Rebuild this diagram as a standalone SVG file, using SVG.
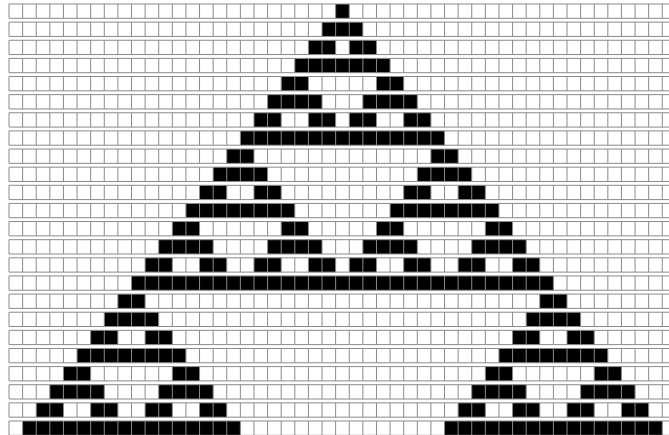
<svg xmlns="http://www.w3.org/2000/svg" width="669" height="435" viewBox="0 0 669 435">
<style>
.b{fill:#000}
.v{stroke:#8a8a8a;stroke-width:1;stroke-dasharray:14.3 3.83;fill:none}
.h{stroke:#8a8a8a;stroke-width:1;fill:none}
</style>
<rect x="0" y="0" width="669" height="435" fill="#fff"/>
<g id="cells" transform="translate(9 4) scale(13.61 18.13)">
<g id="row-0"><rect class="b" x="24" y="0" width="1" height="0.7888"/></g>
<g id="row-1"><rect class="b" x="23" y="1" width="3" height="0.7888"/></g>
<g id="row-2"><rect class="b" x="22" y="2" width="2" height="0.7888"/><rect class="b" x="25" y="2" width="2" height="0.7888"/></g>
<g id="row-3"><rect class="b" x="21" y="3" width="7" height="0.7888"/></g>
<g id="row-4"><rect class="b" x="20" y="4" width="2" height="0.7888"/><rect class="b" x="27" y="4" width="2" height="0.7888"/></g>
<g id="row-5"><rect class="b" x="19" y="5" width="4" height="0.7888"/><rect class="b" x="26" y="5" width="4" height="0.7888"/></g>
<g id="row-6"><rect class="b" x="18" y="6" width="2" height="0.7888"/><rect class="b" x="22" y="6" width="2" height="0.7888"/><rect class="b" x="25" y="6" width="2" height="0.7888"/><rect class="b" x="29" y="6" width="2" height="0.7888"/></g>
<g id="row-7"><rect class="b" x="17" y="7" width="15" height="0.7888"/></g>
<g id="row-8"><rect class="b" x="16" y="8" width="2" height="0.7888"/><rect class="b" x="31" y="8" width="2" height="0.7888"/></g>
<g id="row-9"><rect class="b" x="15" y="9" width="4" height="0.7888"/><rect class="b" x="30" y="9" width="4" height="0.7888"/></g>
<g id="row-10"><rect class="b" x="14" y="10" width="2" height="0.7888"/><rect class="b" x="18" y="10" width="2" height="0.7888"/><rect class="b" x="29" y="10" width="2" height="0.7888"/><rect class="b" x="33" y="10" width="2" height="0.7888"/></g>
<g id="row-11"><rect class="b" x="13" y="11" width="8" height="0.7888"/><rect class="b" x="28" y="11" width="8" height="0.7888"/></g>
<g id="row-12"><rect class="b" x="12" y="12" width="2" height="0.7888"/><rect class="b" x="20" y="12" width="2" height="0.7888"/><rect class="b" x="27" y="12" width="2" height="0.7888"/><rect class="b" x="35" y="12" width="2" height="0.7888"/></g>
<g id="row-13"><rect class="b" x="11" y="13" width="4" height="0.7888"/><rect class="b" x="19" y="13" width="4" height="0.7888"/><rect class="b" x="26" y="13" width="4" height="0.7888"/><rect class="b" x="34" y="13" width="4" height="0.7888"/></g>
<g id="row-14"><rect class="b" x="10" y="14" width="2" height="0.7888"/><rect class="b" x="14" y="14" width="2" height="0.7888"/><rect class="b" x="18" y="14" width="2" height="0.7888"/><rect class="b" x="22" y="14" width="2" height="0.7888"/><rect class="b" x="25" y="14" width="2" height="0.7888"/><rect class="b" x="29" y="14" width="2" height="0.7888"/><rect class="b" x="33" y="14" width="2" height="0.7888"/><rect class="b" x="37" y="14" width="2" height="0.7888"/></g>
<g id="row-15"><rect class="b" x="9" y="15" width="31" height="0.7888"/></g>
<g id="row-16"><rect class="b" x="8" y="16" width="2" height="0.7888"/><rect class="b" x="39" y="16" width="2" height="0.7888"/></g>
<g id="row-17"><rect class="b" x="7" y="17" width="4" height="0.7888"/><rect class="b" x="38" y="17" width="4" height="0.7888"/></g>
<g id="row-18"><rect class="b" x="6" y="18" width="2" height="0.7888"/><rect class="b" x="10" y="18" width="2" height="0.7888"/><rect class="b" x="37" y="18" width="2" height="0.7888"/><rect class="b" x="41" y="18" width="2" height="0.7888"/></g>
<g id="row-19"><rect class="b" x="5" y="19" width="8" height="0.7888"/><rect class="b" x="36" y="19" width="8" height="0.7888"/></g>
<g id="row-20"><rect class="b" x="4" y="20" width="2" height="0.7888"/><rect class="b" x="12" y="20" width="2" height="0.7888"/><rect class="b" x="35" y="20" width="2" height="0.7888"/><rect class="b" x="43" y="20" width="2" height="0.7888"/></g>
<g id="row-21"><rect class="b" x="3" y="21" width="4" height="0.7888"/><rect class="b" x="11" y="21" width="4" height="0.7888"/><rect class="b" x="34" y="21" width="4" height="0.7888"/><rect class="b" x="42" y="21" width="4" height="0.7888"/></g>
<g id="row-22"><rect class="b" x="2" y="22" width="2" height="0.7888"/><rect class="b" x="6" y="22" width="2" height="0.7888"/><rect class="b" x="10" y="22" width="2" height="0.7888"/><rect class="b" x="14" y="22" width="2" height="0.7888"/><rect class="b" x="33" y="22" width="2" height="0.7888"/><rect class="b" x="37" y="22" width="2" height="0.7888"/><rect class="b" x="41" y="22" width="2" height="0.7888"/><rect class="b" x="45" y="22" width="2" height="0.7888"/></g>
<g id="row-23"><rect class="b" x="1" y="23" width="16" height="0.7888"/><rect class="b" x="32" y="23" width="16" height="0.7888"/></g>
</g>
<g id="grid">
<path class="h" d="M9 4H669M9 18.3H669M9 22.13H669M9 36.43H669M9 40.26H669M9 54.56H669M9 58.39H669M9 72.69H669M9 76.52H669M9 90.82H669M9 94.65H669M9 108.95H669M9 112.78H669M9 127.08H669M9 130.91H669M9 145.21H669M9 149.04H669M9 163.34H669M9 167.17H669M9 181.47H669M9 185.3H669M9 199.6H669M9 203.43H669M9 217.73H669M9 221.56H669M9 235.86H669M9 239.69H669M9 253.99H669M9 257.82H669M9 272.12H669M9 275.95H669M9 290.25H669M9 294.08H669M9 308.38H669M9 312.21H669M9 326.51H669M9 330.34H669M9 344.64H669M9 348.47H669M9 362.77H669M9 366.6H669M9 380.9H669M9 384.73H669M9 399.03H669M9 402.86H669M9 417.16H669M9 420.99H669M9 435.29H669"/>
<line class="v" x1="9" y1="4" x2="9" y2="436"/>
<line class="v" x1="22.61" y1="4" x2="22.61" y2="436"/>
<line class="v" x1="36.22" y1="4" x2="36.22" y2="436"/>
<line class="v" x1="49.83" y1="4" x2="49.83" y2="436"/>
<line class="v" x1="63.44" y1="4" x2="63.44" y2="436"/>
<line class="v" x1="77.05" y1="4" x2="77.05" y2="436"/>
<line class="v" x1="90.66" y1="4" x2="90.66" y2="436"/>
<line class="v" x1="104.27" y1="4" x2="104.27" y2="436"/>
<line class="v" x1="117.88" y1="4" x2="117.88" y2="436"/>
<line class="v" x1="131.49" y1="4" x2="131.49" y2="436"/>
<line class="v" x1="145.1" y1="4" x2="145.1" y2="436"/>
<line class="v" x1="158.71" y1="4" x2="158.71" y2="436"/>
<line class="v" x1="172.32" y1="4" x2="172.32" y2="436"/>
<line class="v" x1="185.93" y1="4" x2="185.93" y2="436"/>
<line class="v" x1="199.54" y1="4" x2="199.54" y2="436"/>
<line class="v" x1="213.15" y1="4" x2="213.15" y2="436"/>
<line class="v" x1="226.76" y1="4" x2="226.76" y2="436"/>
<line class="v" x1="240.37" y1="4" x2="240.37" y2="436"/>
<line class="v" x1="253.98" y1="4" x2="253.98" y2="436"/>
<line class="v" x1="267.59" y1="4" x2="267.59" y2="436"/>
<line class="v" x1="281.2" y1="4" x2="281.2" y2="436"/>
<line class="v" x1="294.81" y1="4" x2="294.81" y2="436"/>
<line class="v" x1="308.42" y1="4" x2="308.42" y2="436"/>
<line class="v" x1="322.03" y1="4" x2="322.03" y2="436"/>
<line class="v" x1="335.64" y1="4" x2="335.64" y2="436"/>
<line class="v" x1="349.25" y1="4" x2="349.25" y2="436"/>
<line class="v" x1="362.86" y1="4" x2="362.86" y2="436"/>
<line class="v" x1="376.47" y1="4" x2="376.47" y2="436"/>
<line class="v" x1="390.08" y1="4" x2="390.08" y2="436"/>
<line class="v" x1="403.69" y1="4" x2="403.69" y2="436"/>
<line class="v" x1="417.3" y1="4" x2="417.3" y2="436"/>
<line class="v" x1="430.91" y1="4" x2="430.91" y2="436"/>
<line class="v" x1="444.52" y1="4" x2="444.52" y2="436"/>
<line class="v" x1="458.13" y1="4" x2="458.13" y2="436"/>
<line class="v" x1="471.74" y1="4" x2="471.74" y2="436"/>
<line class="v" x1="485.35" y1="4" x2="485.35" y2="436"/>
<line class="v" x1="498.96" y1="4" x2="498.96" y2="436"/>
<line class="v" x1="512.57" y1="4" x2="512.57" y2="436"/>
<line class="v" x1="526.18" y1="4" x2="526.18" y2="436"/>
<line class="v" x1="539.79" y1="4" x2="539.79" y2="436"/>
<line class="v" x1="553.4" y1="4" x2="553.4" y2="436"/>
<line class="v" x1="567.01" y1="4" x2="567.01" y2="436"/>
<line class="v" x1="580.62" y1="4" x2="580.62" y2="436"/>
<line class="v" x1="594.23" y1="4" x2="594.23" y2="436"/>
<line class="v" x1="607.84" y1="4" x2="607.84" y2="436"/>
<line class="v" x1="621.45" y1="4" x2="621.45" y2="436"/>
<line class="v" x1="635.06" y1="4" x2="635.06" y2="436"/>
<line class="v" x1="648.67" y1="4" x2="648.67" y2="436"/>
<line class="v" x1="662.28" y1="4" x2="662.28" y2="436"/>
</g>
</svg>
